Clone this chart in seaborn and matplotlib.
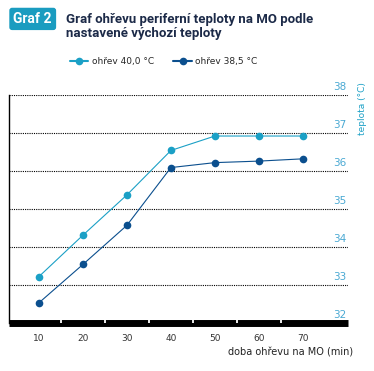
import pandas as pd
import seaborn as sns
import matplotlib.pyplot as plt
import matplotlib.transforms as mtransforms

# --- Data ---
minutes = [10, 20, 30, 40, 50, 60, 70]
temp_40 = [33.22, 34.31, 35.37, 36.54, 36.92, 36.92, 36.92]
temp_385 = [32.53, 33.54, 34.57, 36.09, 36.22, 36.26, 36.32]
series_names = ["ohřev 40,0 °C", "ohřev 38,5 °C"]
y_ticks = [32, 33, 34, 35, 36, 37, 38]
x_ticks = [10, 20, 30, 40, 50, 60, 70]
x_minor = [15, 25, 35, 45, 55, 65]

df = pd.DataFrame({
    "min": minutes * 2,
    "teplota": temp_40 + temp_385,
    "serie": [series_names[0]] * len(minutes) + [series_names[1]] * len(minutes),
})

light = "#1ba0c6"
dark = "#0b4f8e"
tick_blue = "#4aa9d3"
navy = "#1c2a48"
narrow = ["Roboto", "DejaVu Sans"]

sns.set_style("white")
plt.rcParams["font.family"] = ["DejaVu Sans"]

fig = plt.figure(figsize=(3.74, 3.71), dpi=100)
ax = fig.add_axes([0.024, 0.1294, 0.906, 0.6146])

sns.lineplot(data=df, x="min", y="teplota", hue="serie", palette=[light, dark],
             marker="o", markersize=5.5, markeredgewidth=0, linewidth=0.8, ax=ax, legend=False)

ax.set_xlim(3.2, 80.2)
ax.set_ylim(32, 38)

# grid lines
for yv in y_ticks[1:]:
    ax.axhline(yv, color="black", linestyle=(0, (1, 1)), linewidth=0.8, zorder=0)

for s in ["top", "right"]:
    ax.spines[s].set_visible(False)
ax.spines["left"].set_linewidth(1.0)
ax.spines["left"].set_color("black")
ax.spines["bottom"].set_linewidth(5)
ax.spines["bottom"].set_color("black")
ax.spines["bottom"].set_capstyle("butt")

# white minor ticks on thick bottom bar
for xv in x_minor:
    ax.plot([xv, xv], [0, 0.012], color="white", linewidth=1.3,
            transform=ax.get_xaxis_transform(), clip_on=False, zorder=5,
            solid_capstyle="butt")

ax.set_xticks(x_ticks)
ax.set_xticklabels([str(v) for v in x_ticks], fontsize=6.5, color="#333333")
ax.tick_params(axis="x", length=0, pad=8)
ax.set_yticks([])
ax.set_xlabel("")
ax.set_ylabel("")

# y tick labels inside on the right, above lines
trans = mtransforms.blended_transform_factory(ax.transAxes, ax.transData)
for yv in y_ticks:
    ax.text(0.995, yv + 0.07, str(yv), transform=trans, ha="right", va="bottom",
            fontsize=7.5, color=tick_blue)

fig.text(0.968, 0.708, "teplota (°C)", rotation=90, ha="center", va="center",
         fontsize=6.5, color=light)
fig.text(0.944, 0.051, "doba ohřevu na MO (min)", ha="right", va="center",
         fontsize=7, color="#222222")

# title
fig.text(0.036, 0.949, "Graf 2", ha="left", va="center", fontsize=10, fontweight="bold",
         family=narrow, color="white",
         bbox=dict(boxstyle="round,pad=0.3,rounding_size=0.2", fc="#1a9cc0", ec="none"))
fig.text(0.176, 0.928, "Graf ohřevu periferní teploty na MO podle\nnastavené výchozí teploty",
         ha="left", va="center", fontsize=9.5, fontweight="bold", family=narrow,
         color=navy, linespacing=1.08)

# legend
handles = [plt.Line2D([], [], color=c, marker="o", markersize=5.5, markeredgewidth=0,
                      linewidth=1.5) for c in [light, dark]]
fig.legend(handles, series_names, loc="center left", bbox_to_anchor=(0.165, 0.835), ncol=2,
           frameon=False, fontsize=6.5, handlelength=2.0, handletextpad=0.4, columnspacing=2.2)

fig.savefig("out.png", dpi=100)
